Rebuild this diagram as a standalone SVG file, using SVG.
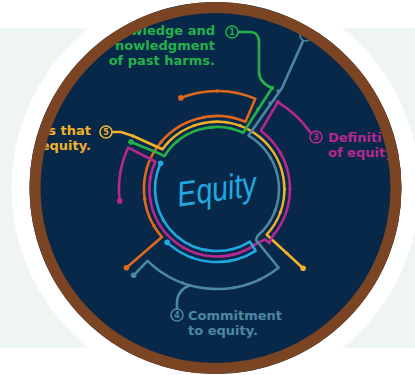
<svg xmlns="http://www.w3.org/2000/svg" width="415" height="375" viewBox="0 0 415 375">
<style>
.ln{fill:none;stroke-width:2.6;stroke-linecap:round;stroke-linejoin:round}
.g{stroke:#25b04c}.y{stroke:#f0b22a}.m{stroke:#b5288f}.o{stroke:#e2691b}.b{stroke:#20a8e0}.s{stroke:#4c88a0}
.gf{fill:#25b04c}.yf{fill:#f0b22a}.mf{fill:#b5288f}.of{fill:#e2691b}.bf{fill:#20a8e0}.sf{fill:#4c88a0}
.lbl{font-family:"DejaVu Sans","Liberation Sans",sans-serif;font-weight:bold;font-size:13px}
.num{font-family:"DejaVu Sans","Liberation Sans",sans-serif;font-weight:bold;font-size:8px;text-anchor:middle}
.ring{fill:#08284a;stroke-width:1.6}
</style>
<defs>
<clipPath id="inner"><circle cx="215.5" cy="188" r="176"/></clipPath>
</defs>
<rect width="415" height="375" fill="#ffffff"/>
<rect x="0" y="28" width="415" height="320" fill="#eef5f2"/>
<circle cx="215.5" cy="188" r="204" fill="#ffffff"/>
<circle cx="215.5" cy="188" r="186" fill="#08284a"/>
<g clip-path="url(#inner)">
<g id="connectors">
<path class="ln o" d="M180.9,97.9 A98,98 0 0 1 255.3,98.8 L245.5,121.8 A73,73 0 0 0 161.9,236.9 L126.4,267.7"/>
<path class="ln y" d="M112,132 L121,132 L133,136 L162.4,149.3 A67.5,67.5 0 1 1 266.7,234.7 L303.1,268.2"/>
<path class="ln m" d="M119.7,200.9 A98,98 0 0 1 128.2,147.6 L155.3,161.5 A67.5,67.5 0 0 0 257.6,242.9 L265,239.3 L269.3,243.3 L272.1,236.9 A73,73 0 0 0 260.9,130.7 L277.8,102.2 A107,107 0 0 1 310,132"/>
<path class="ln s" d="M303,41 L282,88 L248.5,135.6 A62,62 0 0 1 257.7,235.8 L256,240 L278.6,267.8 A100,100 0 0 1 147.5,260.9 L133.6,275.3"/>
<path class="ln s" d="M190,285.3 C182,288 177,295 177,302 L177,309"/>
<path class="ln b" d="M160.6,163.3 A62,62 0 0 0 249.9,241.6 L255.7,250.9 A73,73 0 0 1 167.2,242.4"/>
<path class="ln g" d="M131,142 L158,153 L164.4,156.1 A62,62 0 0 1 243.2,132.8 L272,88 C265,85 259,80 259,72 L259,42 C259,36 256,32 250,32 L238,32"/>
<!-- terminal dots -->
<circle class="gf" cx="131" cy="142" r="2.8"/>
<circle class="gf" cx="272" cy="88" r="2.2"/>
<circle class="mf" cx="119.7" cy="200.9" r="2.8"/>
<circle class="mf" cx="277.8" cy="102.2" r="2.2"/>
<circle class="of" cx="180.9" cy="97.9" r="2.8"/>
<circle class="of" cx="126.4" cy="267.7" r="2.8"/>
<circle class="bf" cx="160.6" cy="163.3" r="2.8"/>
<circle class="bf" cx="167.2" cy="242.4" r="2.8"/>
<circle class="yf" cx="303.1" cy="268.2" r="2.8"/>
<circle class="sf" cx="133.6" cy="275.3" r="2.8"/>
<!-- station dots -->
<g>
<circle class="of" cx="217" cy="91" r="1.7"/><circle class="of" cx="204.3" cy="117.1" r="1.7"/><circle class="of" cx="161.1" cy="142.1" r="1.7"/><circle class="of" cx="144.7" cy="199.2" r="1.7"/><circle class="of" cx="153.8" cy="225.5" r="1.7"/>
<circle class="yf" cx="193.9" cy="125.6" r="1.7"/><circle class="yf" cx="240.1" cy="125.6" r="1.7"/><circle class="yf" cx="284.5" cy="189" r="1.7"/><circle class="yf" cx="280.4" cy="212.1" r="1.7"/><circle class="yf" cx="133" cy="136" r="1.7"/><circle class="yf" cx="286.9" cy="253.3" r="1.7"/>
<circle class="gf" cx="211.6" cy="127.2" r="1.7"/><circle class="gf" cx="177.1" cy="141.5" r="1.7"/><circle class="gf" cx="258" cy="109" r="1.7"/>
<circle class="bf" cx="163.3" cy="220" r="1.7"/><circle class="bf" cx="206.2" cy="250.1" r="1.7"/><circle class="bf" cx="229.7" cy="260.9" r="1.7"/><circle class="bf" cx="192" cy="257.6" r="1.7"/>
<circle class="mf" cx="150.5" cy="177.3" r="1.7"/><circle class="mf" cx="183.3" cy="247.5" r="1.7"/><circle class="mf" cx="228.7" cy="255.5" r="1.7"/><circle class="mf" cx="290" cy="189" r="1.7"/><circle class="mf" cx="280.2" cy="152.5" r="1.7"/><circle class="mf" cx="120.5" cy="172" r="1.7"/>
<circle class="sf" cx="270.7" cy="158" r="1.7"/><circle class="sf" cx="275.3" cy="210.2" r="1.7"/><circle class="sf" cx="182.8" cy="283" r="1.7"/><circle class="sf" cx="234.4" cy="287.5" r="1.7"/><circle class="sf" cx="259.3" cy="279.6" r="1.7"/><circle class="sf" cx="278" cy="91" r="1.7"/><circle class="sf" cx="270" cy="103" r="1.7"/>
</g>
</g>
<g id="node-equity">
<text x="217" y="201" text-anchor="middle" transform="rotate(-8 217 192)" font-family="Liberation Sans, Arial, sans-serif" font-style="italic" font-size="35" fill="#20a8e0" textLength="80" lengthAdjust="spacingAndGlyphs">Equity</text>
</g>
<g id="node-1">
<circle class="ring g" cx="232" cy="32" r="6"/>
<text class="num gf" x="232" y="35">1</text>
<text class="lbl gf" x="215" y="35" text-anchor="end">wledge and</text>
<text class="lbl gf" x="215" y="50" text-anchor="end">nowledgment</text>
<text class="lbl gf" x="215" y="65" text-anchor="end">of past harms.</text>
</g>
<g id="node-2">
<circle class="ring s" cx="306" cy="35" r="6"/>
</g>
<g id="node-3">
<circle class="ring m" cx="316" cy="137" r="6"/>
<text class="num mf" x="316" y="140">3</text>
<text class="lbl mf" x="328" y="142">Definiti</text>
<text class="lbl mf" x="328" y="157">of equity</text>
</g>
<g id="node-4">
<circle class="ring s" cx="177" cy="315" r="6"/>
<text class="num sf" x="177" y="318">4</text>
<text class="lbl sf" x="188" y="320">Commitment</text>
<text class="lbl sf" x="188" y="335">to equity.</text>
</g>
<g id="node-5">
<circle class="ring y" cx="106" cy="132" r="6"/>
<text class="num yf" x="106" y="135">5</text>
<text class="lbl yf" x="91" y="135" text-anchor="end">s that</text>
<text class="lbl yf" x="91" y="150" text-anchor="end">equity.</text>
</g>
</g>
<circle cx="215.5" cy="188" r="180.5" fill="none" stroke="#7b4422" stroke-width="11"/>
</svg>
